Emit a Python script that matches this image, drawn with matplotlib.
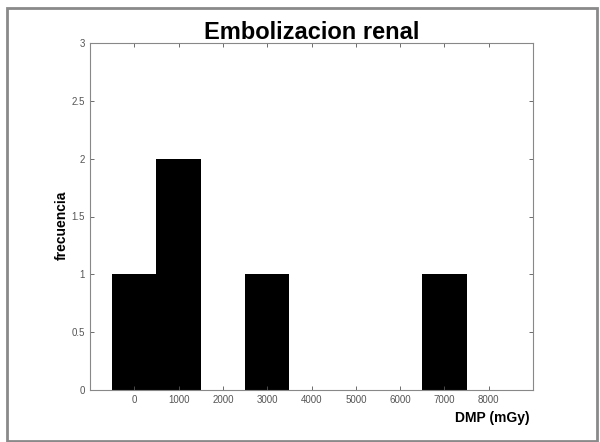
import matplotlib.pyplot as plt
from matplotlib.patches import Rectangle

# data
bin_centers = [0, 1000, 2000, 3000, 4000, 5000, 6000, 7000, 8000]
counts = [1, 2, 0, 1, 0, 0, 0, 1, 0]
x_ticks = [0, 1000, 2000, 3000, 4000, 5000, 6000, 7000, 8000]
y_ticks = [0, 0.5, 1, 1.5, 2, 2.5, 3]
y_tick_labels = ["0", "0.5", "1", "1.5", "2", "2.5", "3"]

plt.rcParams["font.family"] = ["Liberation Sans", "DejaVu Sans"]

fig = plt.figure(figsize=(6, 4.42), dpi=100)
ax = fig.add_axes([90 / 600, 1 - 390 / 442, 443 / 600, 347 / 442])

ax.bar(bin_centers, counts, width=1000, color="black", linewidth=0)

ax.set_xlim(-1000, 9000)
ax.set_ylim(0, 3)
ax.set_xticks(x_ticks)
ax.set_yticks(y_ticks)
ax.set_yticklabels(y_tick_labels)
ax.tick_params(direction="in", length=3, labelsize=7, colors="#555555",
               top=True, right=True, width=0.6)
for s in ax.spines.values():
    s.set_color("#888888")
    s.set_linewidth(0.8)

ax.set_title("Embolizacion renal", fontsize=17, fontweight="bold", pad=3)
fig.text(530 / 600, 1 - 418 / 442, "DMP (mGy)", ha="right", va="center",
         fontsize=10, fontweight="bold")
fig.text(62 / 600, 1 - 225 / 442, "frecuencia", ha="center", va="center",
         rotation=90, fontsize=10, fontweight="bold")

# outer grey frame
fig.patches.append(Rectangle((7 / 600, 0.002), 590 / 600, 1 - 9 / 442,
                             transform=fig.transFigure, fill=False,
                             edgecolor="#8a8a8a", linewidth=2))

fig.savefig("out.png", dpi=100)
